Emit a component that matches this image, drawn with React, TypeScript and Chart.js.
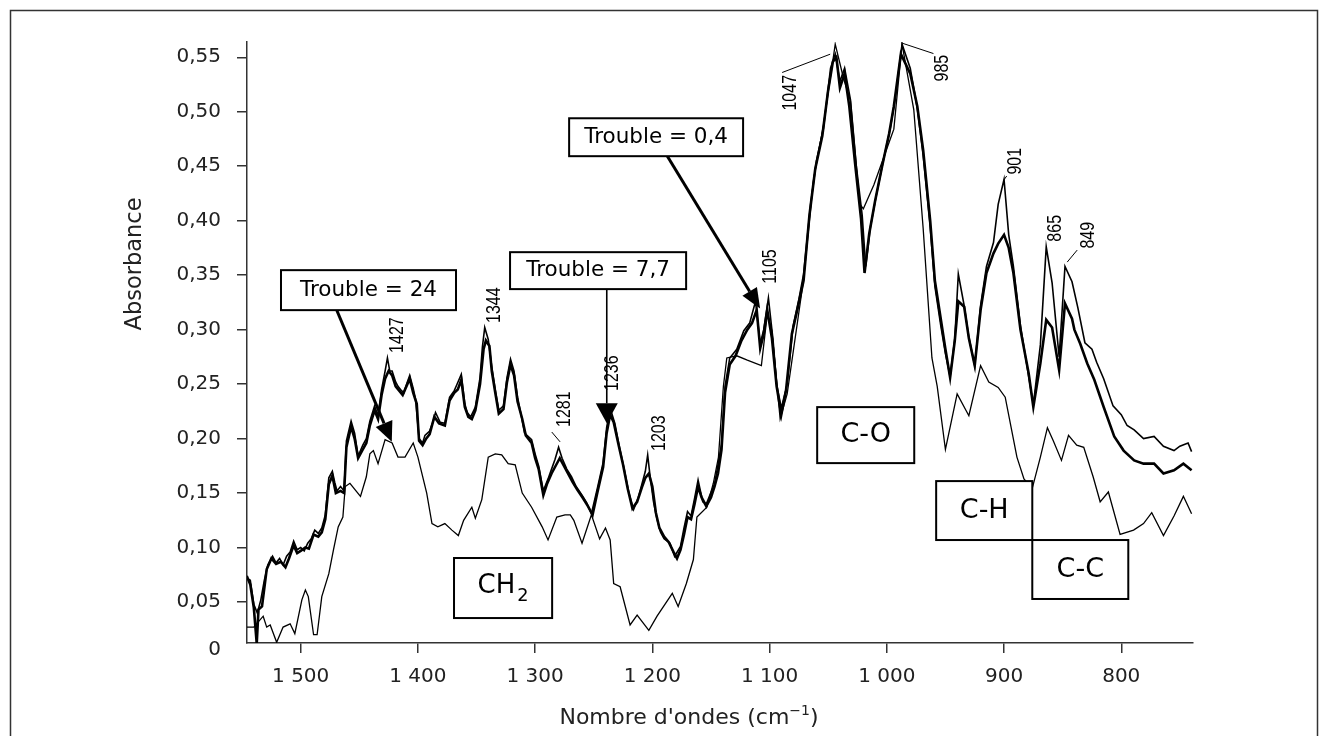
import React, { useEffect, useRef } from "react";
import { Chart, registerables } from "chart.js";

Chart.register(...registerables);

// ---------- axes ----------
const xTickValues = [1500, 1400, 1300, 1200, 1100, 1000, 900, 800];
const yTickValues = [0.05, 0.1, 0.15, 0.2, 0.25, 0.3, 0.35, 0.4, 0.45, 0.5, 0.55];
const xBounds = [738.8, 1545.8];
const yBounds = [0.0124, 0.564];
const xTitle = "Nombre d'ondes (cm";
const xTitleSup = "\u22121";
const yTitle = "Absorbance";

// ---------- series: [wavenumber cm-1, absorbance] ----------
const trouble24: [number, number][] = [
  [1546, 0.027], [1540, 0.027], [1532, 0.037], [1529, 0.027], [1526, 0.029], [1520.5, 0.013],
  [1515, 0.027], [1509, 0.030], [1505, 0.021], [1499, 0.052], [1496, 0.061], [1493.5, 0.055],
  [1489, 0.020], [1486, 0.020], [1482, 0.055], [1476, 0.076], [1472, 0.098], [1468, 0.119],
  [1464, 0.128], [1462, 0.156], [1458, 0.159], [1449, 0.147], [1444, 0.165], [1441, 0.186],
  [1438, 0.189], [1434, 0.177], [1428, 0.199], [1422, 0.196], [1417, 0.183], [1411, 0.183],
  [1404, 0.196], [1400, 0.183], [1392.5, 0.150], [1388, 0.122], [1383, 0.119], [1377, 0.122],
  [1371, 0.116], [1365.5, 0.111], [1361, 0.125], [1354, 0.137], [1351, 0.127], [1345.5, 0.144],
  [1340, 0.183], [1334, 0.186], [1328.5, 0.185], [1323, 0.177], [1317, 0.176], [1311, 0.150],
  [1303, 0.137], [1294, 0.119], [1289, 0.107], [1281.5, 0.128], [1274.5, 0.130], [1270, 0.130],
  [1267, 0.125], [1260, 0.104], [1252, 0.130], [1245, 0.108], [1240, 0.118], [1236, 0.107],
  [1233, 0.067], [1227.5, 0.064], [1219, 0.029], [1213, 0.038], [1203, 0.024], [1196, 0.037],
  [1183, 0.058], [1178, 0.046], [1171, 0.067], [1165, 0.089], [1162, 0.128], [1153.5, 0.137],
  [1148, 0.159], [1143.6, 0.183], [1139.4, 0.248], [1136.5, 0.274], [1128, 0.276], [1119, 0.272],
  [1107, 0.267], [1102, 0.314], [1098, 0.299], [1091, 0.218], [1085, 0.241], [1071, 0.346],
  [1062.6, 0.437], [1054, 0.488], [1044, 0.562], [1037, 0.531], [1031, 0.510], [1023, 0.415],
  [1020, 0.411], [1011, 0.433], [1000, 0.466], [994, 0.484], [987, 0.562], [977, 0.502],
  [969, 0.393], [961.5, 0.274], [957, 0.248], [950, 0.190], [940, 0.241], [930, 0.221],
  [920, 0.267], [913, 0.252], [905, 0.247], [899, 0.238], [889, 0.183], [883, 0.163],
  [876, 0.154], [869, 0.183], [863, 0.210], [858, 0.198], [851, 0.180], [845, 0.203],
  [838, 0.194], [832, 0.192], [824, 0.165], [818, 0.142], [811, 0.151], [801, 0.112],
  [789.5, 0.116], [781, 0.122], [774, 0.132], [764, 0.111], [755, 0.129], [747, 0.147], [740, 0.131],
];

const trouble77: [number, number][] = [
  [1546, 0.074], [1543, 0.066], [1540, 0.045], [1537.5, 0.012], [1536, 0.043], [1533, 0.046],
  [1529, 0.080], [1525, 0.090], [1521, 0.085], [1517, 0.087], [1513, 0.082], [1510, 0.090],
  [1506, 0.102], [1503, 0.095], [1500, 0.097], [1496, 0.100], [1493, 0.099], [1489, 0.112],
  [1485, 0.110], [1482, 0.114], [1479, 0.126], [1476, 0.158], [1473, 0.166], [1470, 0.150],
  [1466, 0.152], [1463, 0.150], [1461, 0.192], [1457, 0.211], [1454, 0.200], [1451, 0.182],
  [1447, 0.190], [1444, 0.196], [1441, 0.212], [1437, 0.226], [1434, 0.218], [1431, 0.240],
  [1428, 0.255], [1425, 0.262], [1422, 0.258], [1419, 0.248], [1416, 0.244], [1413, 0.240],
  [1409, 0.250], [1407, 0.255], [1404, 0.242], [1401, 0.232], [1399, 0.198], [1396, 0.194],
  [1393, 0.200], [1390, 0.204], [1386, 0.220], [1382, 0.214], [1377, 0.212], [1373, 0.235],
  [1369, 0.242], [1366, 0.245], [1363, 0.254], [1360, 0.229], [1357, 0.220], [1354, 0.218],
  [1351, 0.226], [1347, 0.250], [1344, 0.282], [1342, 0.290], [1339, 0.285], [1337, 0.262],
  [1334, 0.242], [1331, 0.223], [1327, 0.227], [1324, 0.252], [1321, 0.268], [1318, 0.258],
  [1315, 0.234], [1311, 0.218], [1308, 0.203], [1303, 0.196], [1300, 0.182], [1297, 0.172],
  [1293, 0.148], [1290, 0.158], [1286, 0.168], [1282, 0.176], [1279, 0.182], [1276, 0.176],
  [1272, 0.168], [1268, 0.160], [1264, 0.153], [1259, 0.145], [1255, 0.138], [1251, 0.130],
  [1247, 0.150], [1242, 0.174], [1239, 0.205], [1236, 0.222], [1233, 0.215], [1229, 0.195],
  [1225, 0.176], [1221, 0.154], [1217, 0.136], [1213, 0.142], [1209, 0.155], [1206, 0.164],
  [1203, 0.168], [1200, 0.156], [1197, 0.132], [1194, 0.118], [1190, 0.110], [1186, 0.105],
  [1182, 0.096], [1179, 0.090], [1176, 0.098], [1173, 0.112], [1170, 0.128], [1167, 0.126],
  [1164, 0.140], [1161, 0.156], [1158, 0.146], [1154, 0.138], [1150, 0.146], [1147, 0.156],
  [1144, 0.168], [1141, 0.190], [1138, 0.242], [1134, 0.268], [1129, 0.276], [1124, 0.290],
  [1119, 0.300], [1115, 0.306], [1111, 0.318], [1108, 0.283], [1105, 0.296], [1102, 0.318],
  [1098, 0.292], [1094, 0.248], [1090, 0.222], [1086, 0.244], [1081, 0.296], [1076, 0.320],
  [1071, 0.345], [1066, 0.405], [1061, 0.448], [1055, 0.478], [1050, 0.520], [1046, 0.546],
  [1043, 0.550], [1040, 0.522], [1036, 0.535], [1032, 0.505], [1027, 0.452], [1022, 0.402],
  [1019, 0.352], [1015, 0.388], [1010, 0.418], [1004, 0.450], [998, 0.480], [994, 0.505],
  [988, 0.553], [980, 0.535], [974, 0.505], [969, 0.465], [963, 0.400], [959, 0.345],
  [954, 0.310], [950, 0.282], [946, 0.256], [942, 0.290], [939, 0.326], [934, 0.321],
  [930, 0.292], [925, 0.267], [920, 0.318], [915, 0.352], [909, 0.370], [905, 0.379],
  [900, 0.387], [896, 0.375], [892, 0.352], [886, 0.300], [879, 0.260], [875, 0.229],
  [869, 0.269], [864, 0.309], [859, 0.302], [853, 0.263], [848, 0.324], [842, 0.310],
  [840, 0.300], [835, 0.287], [829, 0.269], [823, 0.254], [815, 0.229], [806, 0.202],
  [798, 0.189], [789, 0.180], [781, 0.177], [772, 0.177], [764, 0.168], [755, 0.171],
  [747, 0.177], [740, 0.171],
];

const trouble04: [number, number][] = [
  [1546, 0.072], [1543, 0.070], [1540, 0.048], [1537, 0.040], [1534, 0.052], [1531, 0.070],
  [1528, 0.084], [1524, 0.092], [1521, 0.086], [1518, 0.090], [1515, 0.084], [1512, 0.092],
  [1509, 0.096], [1506, 0.106], [1503, 0.098], [1500, 0.100], [1497, 0.097], [1494, 0.104],
  [1491, 0.108], [1488, 0.116], [1485, 0.113], [1482, 0.118], [1479, 0.130], [1476, 0.164],
  [1473, 0.170], [1471, 0.160], [1469, 0.152], [1466, 0.156], [1463, 0.152], [1461, 0.198],
  [1457, 0.216], [1454, 0.205], [1451, 0.184], [1447, 0.194], [1444, 0.200], [1441, 0.216],
  [1437, 0.230], [1434, 0.221], [1431, 0.245], [1428, 0.262], [1426, 0.274], [1424, 0.262],
  [1422, 0.262], [1419, 0.252], [1417, 0.248], [1414, 0.244], [1412, 0.242], [1409, 0.252],
  [1407, 0.258], [1404, 0.246], [1402, 0.236], [1399, 0.200], [1396, 0.196], [1394, 0.203],
  [1390, 0.207], [1387, 0.216], [1385, 0.224], [1381, 0.215], [1377, 0.214], [1373, 0.238],
  [1369, 0.244], [1367, 0.249], [1363, 0.259], [1360, 0.232], [1358, 0.224], [1355, 0.220],
  [1351, 0.229], [1347, 0.256], [1345, 0.284], [1343, 0.302], [1340, 0.291], [1337, 0.266],
  [1334, 0.245], [1331, 0.226], [1327, 0.230], [1324, 0.256], [1321, 0.273], [1318, 0.262],
  [1315, 0.238], [1312, 0.222], [1309, 0.205], [1303, 0.199], [1300, 0.186], [1297, 0.175],
  [1293, 0.152], [1289, 0.163], [1286, 0.172], [1283, 0.181], [1280, 0.192], [1277, 0.182],
  [1273, 0.172], [1269, 0.165], [1265, 0.156], [1260, 0.148], [1256, 0.141], [1252, 0.131],
  [1247, 0.154], [1242, 0.178], [1239, 0.210], [1236, 0.228], [1232, 0.214], [1228, 0.192],
  [1224, 0.172], [1220, 0.150], [1216, 0.135], [1212, 0.146], [1209, 0.158], [1206, 0.170],
  [1204, 0.185], [1202, 0.166], [1199, 0.142], [1196, 0.126], [1193, 0.114], [1190, 0.108],
  [1185, 0.104], [1181, 0.092], [1176, 0.101], [1173, 0.118], [1170, 0.133], [1167, 0.129],
  [1164, 0.145], [1161, 0.162], [1157, 0.142], [1154, 0.140], [1151, 0.148], [1147, 0.158],
  [1145, 0.170], [1141, 0.195], [1138, 0.248], [1134, 0.274], [1128, 0.282], [1122, 0.299],
  [1117, 0.306], [1112, 0.326], [1108, 0.287], [1105, 0.300], [1101, 0.329], [1097, 0.290],
  [1094, 0.250], [1090, 0.228], [1085, 0.250], [1080, 0.303], [1075, 0.328], [1071, 0.351],
  [1065, 0.415], [1060, 0.455], [1054, 0.485], [1048, 0.540], [1044, 0.553], [1040, 0.528],
  [1036, 0.540], [1031, 0.511], [1026, 0.450], [1021, 0.405], [1018, 0.358], [1014, 0.394],
  [1009, 0.423], [1003, 0.455], [997, 0.485], [993, 0.511], [987, 0.562], [980, 0.540],
  [974, 0.503], [969, 0.460], [963, 0.394], [959, 0.340], [954, 0.304], [950, 0.278],
  [946, 0.257], [942, 0.292], [939, 0.351], [934, 0.322], [930, 0.293], [925, 0.267],
  [920, 0.322], [915, 0.358], [909, 0.380], [905, 0.415], [900, 0.438], [896, 0.387],
  [892, 0.358], [886, 0.304], [879, 0.257], [875, 0.231], [869, 0.286], [864, 0.376],
  [859, 0.343], [853, 0.275], [848, 0.358], [842, 0.344], [837, 0.320], [831, 0.288],
  [825, 0.282], [821, 0.270], [815, 0.255], [807, 0.230], [800, 0.222], [795, 0.212],
  [789, 0.208], [781, 0.200], [772, 0.202], [764, 0.193], [755, 0.189], [750, 0.193],
  [743, 0.196], [740, 0.188],
];

// ---------- annotations (anchored in data coordinates) ----------
const peakNames = ["1427", "1344", "1281", "1236", "1203", "1105", "1047", "985", "901", "865", "849"];
const peakLabelWn = [1417.4, 1335.0, 1275.3, 1233.9, 1194.2, 1099.1, 1082.5, 952.3, 890.5, 856.3, 828.2];
const peakLabelAb = [0.295, 0.3225, 0.227, 0.26, 0.205, 0.358, 0.5174, 0.54, 0.4546, 0.393, 0.3867];
const leaderFrom: [number, number][] = [[1089.3, 0.536], [987.1, 0.563], [846.1, 0.362], [1285.8, 0.206], [900.4, 0.437]];
const leaderTo: [number, number][] = [[1048.3, 0.5528], [960.2, 0.5534], [837.6, 0.373], [1278.7, 0.197], [897.7, 0.441]];

const boxTexts = ["Trouble = 24", "Trouble = 7,7", "Trouble = 0,4", "CH", "C-O", "C-H", "C-C"];
const boxSubscripts = ["", "", "", "2", "", "", ""];
const boxFontSizes = [21.5, 21.5, 21.5, 26, 27, 27, 27];
const boxCorner1: [number, number][] = [[1516.8, 0.3546], [1321.4, 0.3711], [1271.0, 0.494], [1369.2, 0.0904], [1059.4, 0.2289], [957.9, 0.161], [875.9, 0.1069]];
const boxCorner2: [number, number][] = [[1367.5, 0.3179], [1171.2, 0.3372], [1122.6, 0.4592], [1285.5, 0.0353], [976.6, 0.1775], [875.9, 0.1069], [794.0, 0.0528]];

const arrowFrom: [number, number][] = [[1469.3, 0.318], [1238.9, 0.337], [1187.7, 0.46]];
const arrowTo: [number, number][] = [[1422.3, 0.197], [1238.9, 0.214], [1108.1, 0.3194]];
const arrowWidths = [3, 1.6, 3];
const arrowHeadWidths = [18, 22, 17];

const FONT = '"DejaVu Sans", "Liberation Sans", sans-serif';
const AXIS_COLOR = "#333";

const fmtX = (v: number) =>
  v >= 1000 ? `${Math.floor(v / 1000)} ${String(v % 1000).padStart(3, "0")}` : String(v);
const fmtY = (v: number) => (v === 0 ? "0" : v.toFixed(2).replace(".", ","));

function drawArrow(ctx: CanvasRenderingContext2D, x1: number, y1: number, x2: number, y2: number, lw: number, headW: number) {
  const headLen = 20;
  const ang = Math.atan2(y2 - y1, x2 - x1);
  const bx = x2 - headLen * Math.cos(ang);
  const by = y2 - headLen * Math.sin(ang);
  ctx.strokeStyle = "#000";
  ctx.fillStyle = "#000";
  ctx.lineWidth = lw;
  ctx.beginPath();
  ctx.moveTo(x1, y1);
  ctx.lineTo(bx, by);
  ctx.stroke();
  ctx.beginPath();
  ctx.moveTo(x2, y2);
  ctx.lineTo(bx + (headW / 2) * Math.sin(ang), by - (headW / 2) * Math.cos(ang));
  ctx.lineTo(bx - (headW / 2) * Math.sin(ang), by + (headW / 2) * Math.cos(ang));
  ctx.closePath();
  ctx.fill();
}

const overlayPlugin = {
  id: "overlay",
  afterDraw(chart: any) {
    const { ctx, scales } = chart;
    const xs = scales.x;
    const ys = scales.y;
    const X = (v: number) => xs.getPixelForValue(v);
    const Y = (a: number) => ys.getPixelForValue(a);
    ctx.save();

    // outer frame
    ctx.strokeStyle = "#333";
    ctx.lineWidth = 1.5;
    ctx.strokeRect(10.5, 10.5, 1307, 760);

    // "0" label of the y axis
    ctx.fillStyle = "#222";
    ctx.font = `20px ${FONT}`;
    ctx.textAlign = "right";
    ctx.textBaseline = "middle";
    ctx.fillText(fmtY(0), ys.right - 26, xs.top + 7);

    // axis titles
    ctx.font = `22.5px ${FONT}`;
    ctx.save();
    ctx.translate(135, 264);
    ctx.rotate(-Math.PI / 2);
    ctx.textAlign = "center";
    ctx.fillText(yTitle, 0, 0);
    ctx.restore();

    ctx.font = `22px ${FONT}`;
    const w1 = ctx.measureText(xTitle).width;
    ctx.font = `14px ${FONT}`;
    const w2 = ctx.measureText(xTitleSup).width;
    ctx.font = `22px ${FONT}`;
    const w3 = ctx.measureText(")").width;
    let tx = 689 - (w1 + w2 + w3) / 2;
    ctx.textAlign = "left";
    ctx.textBaseline = "alphabetic";
    ctx.fillText(xTitle, tx, 724);
    tx += w1;
    ctx.font = `14px ${FONT}`;
    ctx.fillText(xTitleSup, tx, 715);
    tx += w2;
    ctx.font = `22px ${FONT}`;
    ctx.fillText(")", tx, 724);

    // leader lines
    ctx.strokeStyle = "#000";
    ctx.lineWidth = 1;
    leaderFrom.forEach((f, i) => {
      ctx.beginPath();
      ctx.moveTo(X(f[0]), Y(f[1]));
      ctx.lineTo(X(leaderTo[i][0]), Y(leaderTo[i][1]));
      ctx.stroke();
    });

    // rotated peak labels
    ctx.fillStyle = "#000";
    peakNames.forEach((t, i) => {
      ctx.save();
      ctx.translate(X(peakLabelWn[i]), Y(peakLabelAb[i]));
      ctx.scale(1.3, 1);
      ctx.rotate(-Math.PI / 2);
      ctx.font = `16px "Liberation Sans", Arial, sans-serif`;
      ctx.textAlign = "center";
      ctx.textBaseline = "middle";
      ctx.fillText(t, 0, 0);
      ctx.restore();
    });

    // arrows
    arrowFrom.forEach((f, i) => {
      drawArrow(ctx, X(f[0]), Y(f[1]), X(arrowTo[i][0]), Y(arrowTo[i][1]), arrowWidths[i], arrowHeadWidths[i]);
    });

    // boxes
    boxTexts.forEach((t, i) => {
      const x1 = X(boxCorner1[i][0]);
      const y1 = Y(boxCorner1[i][1]);
      const x2 = X(boxCorner2[i][0]);
      const y2 = Y(boxCorner2[i][1]);
      const l = Math.min(x1, x2);
      const tp = Math.min(y1, y2);
      const w = Math.abs(x2 - x1);
      const h = Math.abs(y2 - y1);
      ctx.fillStyle = "#fff";
      ctx.fillRect(l, tp, w, h);
      ctx.strokeStyle = "#000";
      ctx.lineWidth = 2;
      ctx.strokeRect(l, tp, w, h);
      ctx.fillStyle = "#000";
      const fs = boxFontSizes[i];
      ctx.font = `${fs}px ${FONT}`;
      ctx.textBaseline = "middle";
      const sub = boxSubscripts[i];
      if (sub) {
        const mw = ctx.measureText(t).width;
        ctx.font = `${fs * 0.68}px ${FONT}`;
        const sw = ctx.measureText(sub).width;
        const sx = l + w / 2 - (mw + sw + 2) / 2;
        ctx.textAlign = "left";
        ctx.font = `${fs}px ${FONT}`;
        ctx.fillText(t, sx, tp + h / 2 - 2);
        ctx.font = `${fs * 0.68}px ${FONT}`;
        ctx.fillText(sub, sx + mw + 2, tp + h / 2 + 8);
      } else {
        ctx.textAlign = "center";
        ctx.fillText(t, l + w / 2, tp + h / 2);
      }
    });

    ctx.restore();
  },
};

export default function App() {
  const canvasRef = useRef<HTMLCanvasElement | null>(null);

  useEffect(() => {
    const canvas = canvasRef.current;
    if (!canvas) return;
    const toPts = (arr: [number, number][]) => arr.map(([x, y]) => ({ x, y }));
    const chart = new Chart(canvas, {
      type: "line",
      data: {
        datasets: [
          { label: "Trouble = 7,7", data: toPts(trouble77), borderColor: "#000", borderWidth: 2.6, pointRadius: 0, fill: false, tension: 0 },
          { label: "Trouble = 0,4", data: toPts(trouble04), borderColor: "#000", borderWidth: 1.6, pointRadius: 0, fill: false, tension: 0 },
          { label: "Trouble = 24", data: toPts(trouble24), borderColor: "#000", borderWidth: 1.3, pointRadius: 0, fill: false, tension: 0 },
        ],
      },
      options: {
        animation: false,
        responsive: true,
        maintainAspectRatio: false,
        parsing: true,
        layout: { padding: { top: 42, right: 127, left: 0, bottom: 0 } },
        plugins: { legend: { display: false }, tooltip: { enabled: false }, title: { display: false } },
        scales: {
          x: {
            type: "linear",
            reverse: true,
            min: xBounds[0],
            max: xBounds[1],
            afterBuildTicks: (s: any) => {
              s.ticks = xTickValues.map((v) => ({ value: v }));
            },
            afterFit: (s: any) => {
              s.height = 93;
            },
            ticks: {
              autoSkip: false,
              maxRotation: 0,
              padding: 12,
              color: "#222",
              font: { family: FONT, size: 20 },
              callback: (v: any) => fmtX(Number(v)),
            },
            grid: { display: true, drawOnChartArea: false, drawTicks: true, tickLength: 10, color: AXIS_COLOR, lineWidth: 1.5 },
            border: { display: true, color: AXIS_COLOR, width: 1.5 },
          },
          y: {
            type: "linear",
            min: yBounds[0],
            max: yBounds[1],
            afterBuildTicks: (s: any) => {
              s.ticks = yTickValues.map((v) => ({ value: v }));
            },
            afterFit: (s: any) => {
              s.width = 247;
            },
            ticks: {
              padding: 16,
              color: "#222",
              font: { family: FONT, size: 20 },
              callback: (v: any) => fmtY(Number(v)),
            },
            grid: { display: true, drawOnChartArea: false, drawTicks: true, tickLength: 10, color: AXIS_COLOR, lineWidth: 1.5 },
            border: { display: true, color: AXIS_COLOR, width: 1.5 },
          },
        },
      },
      plugins: [overlayPlugin],
    });
    return () => chart.destroy();
  }, []);

  return (
    <div style={{ position: "fixed", left: 0, top: 0, width: "1320px", height: "736px", background: "#fff" }}>
      <canvas ref={canvasRef} />
    </div>
  );
}
